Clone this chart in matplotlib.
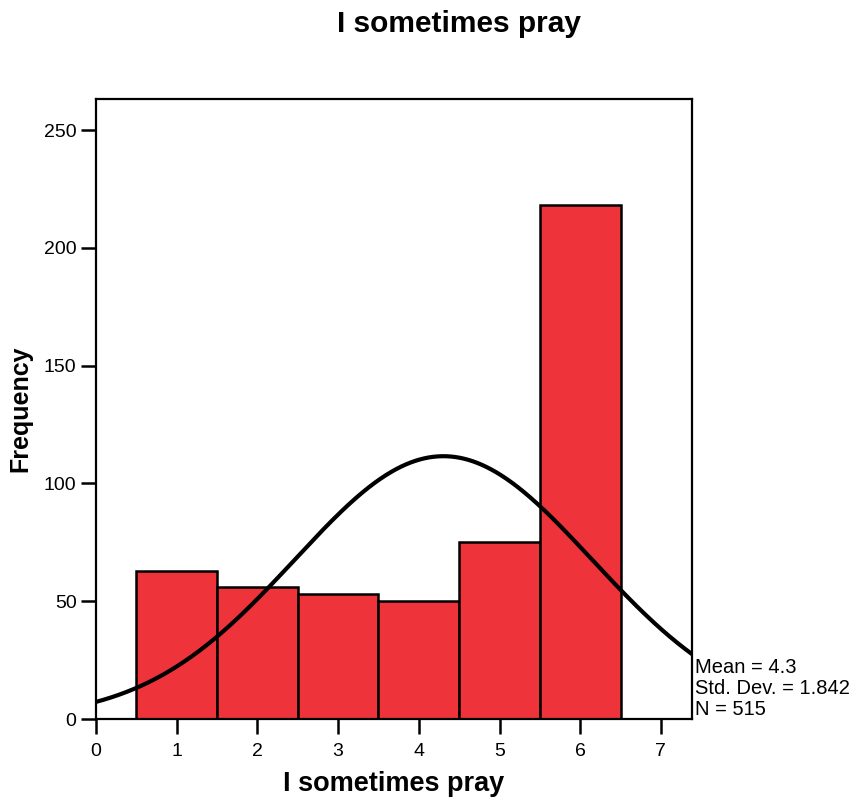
import matplotlib
matplotlib.use("Agg")
import matplotlib.pyplot as plt
import numpy as np

plt.rcParams["font.family"] = ["Liberation Sans", "DejaVu Sans"]

# response values and their counts
values = [1, 2, 3, 4, 5, 6]
counts = [63, 56, 53, 50, 75, 218]
x_ticks = [0, 1, 2, 3, 4, 5, 6, 7]
y_ticks = [0, 50, 100, 150, 200, 250]
title = "I sometimes pray"

vals = np.array(values, dtype=float)
cnt = np.array(counts, dtype=float)
n = int(cnt.sum())
mean = (vals * cnt).sum() / n
std = np.sqrt(((vals - mean) ** 2 * cnt).sum() / (n - 1))

fig = plt.figure(figsize=(8.53, 7.97), dpi=100)
ax = fig.add_axes([96 / 853, 1 - 719 / 797, (692 - 96) / 853, (719 - 99) / 797])

ax.bar(vals, cnt, width=1.0, color="#ef333a", edgecolor="black", linewidth=1.8, zorder=2)

xs = np.linspace(0, 7.4, 400)
curve = n * np.exp(-0.5 * ((xs - mean) / std) ** 2) / (std * np.sqrt(2 * np.pi))
ax.plot(xs, curve, color="black", linewidth=3, zorder=3, solid_capstyle="butt")

ax.set_xlim(0, 7.385)
ax.set_ylim(0, 263.2)
ax.set_xticks(x_ticks)
ax.set_yticks(y_ticks)
ax.tick_params(direction="out", length=11, width=1.8, labelsize=14)
ax.tick_params(axis="x", pad=6)
ax.tick_params(axis="y", pad=3)
for s in ax.spines.values():
    s.set_linewidth(1.6)

ax.set_xlabel(title, fontsize=19.5, fontweight="bold", labelpad=8)
ax.set_ylabel("Frequency", fontsize=18, fontweight="bold", labelpad=8)
fig.text(459 / 853, 1 - 24 / 797, title, fontsize=21.5, fontweight="bold",
         ha="center", va="center")

ax.text(1.005, 0.0, f"Mean = {mean:.1f}\nStd. Dev. = {std:.3f}\nN = {n}",
        transform=ax.transAxes, ha="left", va="bottom", fontsize=14.5, linespacing=1.12)

fig.savefig("out.png", dpi=100)
